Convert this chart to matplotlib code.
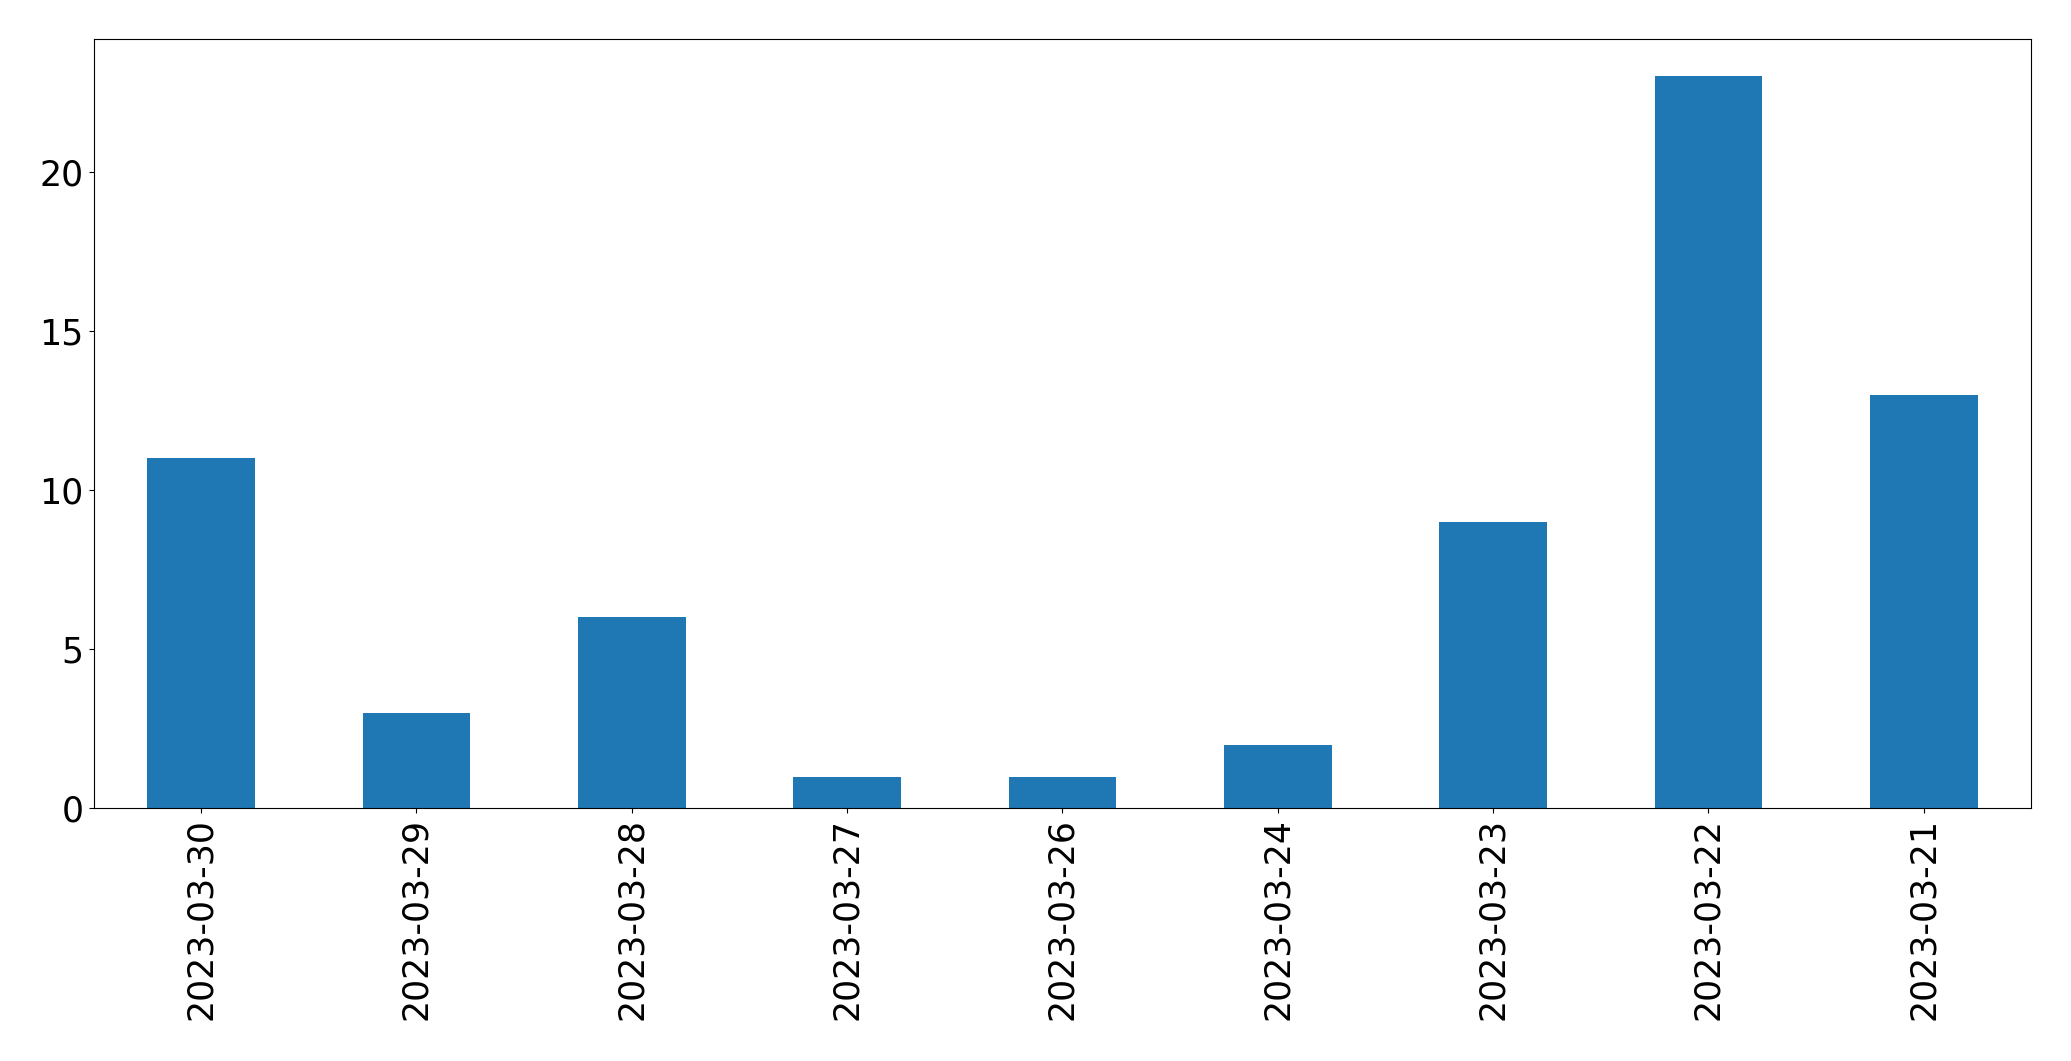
import matplotlib
matplotlib.use("Agg")
import matplotlib.pyplot as plt
import pandas as pd

dates = ["2023-03-30", "2023-03-29", "2023-03-28", "2023-03-27", "2023-03-26",
         "2023-03-24", "2023-03-23", "2023-03-22", "2023-03-21"]
counts = [11, 3, 6, 1, 1, 2, 9, 23, 13]

fig = plt.figure(figsize=(20.71, 10.61), dpi=100)
ax = fig.add_axes([0.04515, 0.2380, 0.9809 - 0.04515, 0.9628 - 0.2380])
s = pd.Series(counts, index=dates)
s.plot(kind="bar", ax=ax, color="#1f77b4", fontsize=25)
ax.tick_params(axis="both", labelsize=25)
fig.savefig("out.png", dpi=100)
